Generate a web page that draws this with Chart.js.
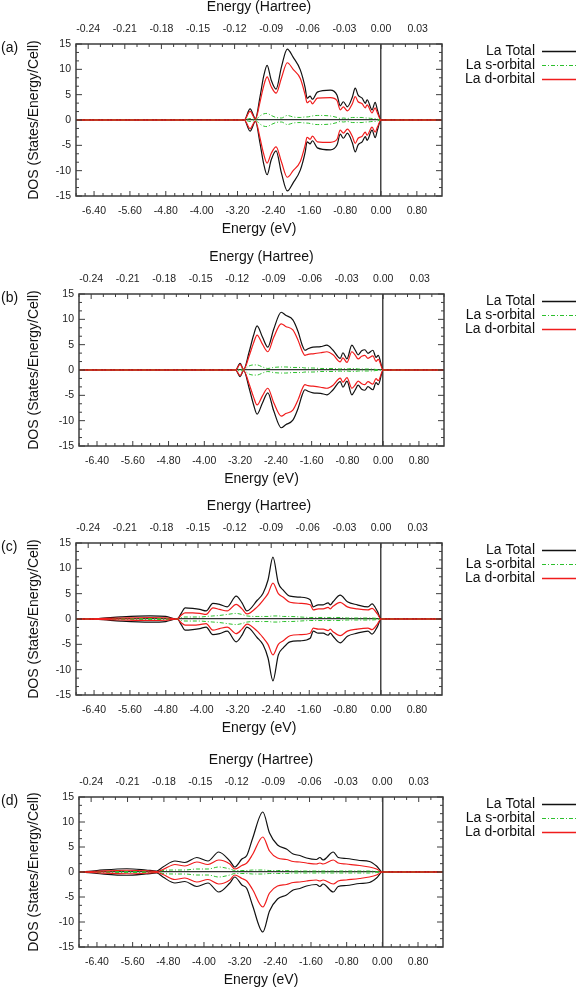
<!DOCTYPE html>
<html>
<head>
<meta charset="utf-8">
<title>La DOS</title>
<script src="https://cdn.jsdelivr.net/npm/chart.js@4.4.1/dist/chart.umd.min.js"></script>
<style>
  body { margin: 0; background: #fff; }
  .wrap { position: relative; width: 580px; height: 992px; overflow: hidden; }
  canvas { position: absolute; left: 0; }
</style>
</head>
<body>
<div class="wrap">
  <canvas id="panel-a" width="580" height="240" style="top:0px"></canvas>
  <canvas id="panel-b" width="580" height="240" style="top:250px"></canvas>
  <canvas id="panel-c" width="580" height="240" style="top:499px"></canvas>
  <canvas id="panel-d" width="580" height="238" style="top:753px"></canvas>
</div>
<script>
// Tick labels
const evTicks = [-6.4, -5.6, -4.8, -4.0, -3.2, -2.4, -1.6, -0.8, 0, 0.8];
const hartreeTicks = [-0.24, -0.21, -0.18, -0.15, -0.12, -0.09, -0.06, -0.03, 0, 0.03];
const dosTicks = [-15, -10, -5, 0, 5, 10, 15];
const legendLabels = ['La Total', 'La s-orbital', 'La d-orbital'];

// Panel (a) - energies in eV, DOS (spin up, spin down is mirrored)
const energyA = [-6.80, -3.05, -2.92, -2.80, -2.70, -2.62, -2.54, -2.45, -2.34, -2.22, -2.09, -1.96, -1.80, -1.69, -1.65, -1.58, -1.53, -1.42, -1.13, -0.98, -0.91, -0.84, -0.75, -0.64, -0.575, -0.51, -0.42, -0.35, -0.31, -0.20, -0.13, -0.08, 0.00, 1.36];
const totalA  = [0, 0, 2.2, 0.3, 4.5, 8.5, 10.8, 7.9, 6.1, 10.5, 14.0, 12.4, 9.9, 6.3, 4.3, 4.7, 4.1, 5.5, 5.9, 4.9, 2.8, 3.6, 2.6, 4.5, 6.3, 4.9, 4.3, 3.3, 4.0, 2.0, 3.5, 2.0, 0, 0];
const sOrbA   = [0, 0, 0.3, 0.1, 0.8, 1.2, 1.3, 0.9, 0.5, 0.4, 0.9, 0.6, 0.5, 0.6, 0.6, 0.7, 0.8, 0.9, 0.8, 0.5, 0.3, 0.4, 0.3, 0.5, 0.5, 0.5, 0.5, 0.4, 0.4, 0.3, 0.3, 0.2, 0, 0];
const dOrbA   = [0, 0, 1.7, 0.2, 3.5, 6.6, 8.5, 6.6, 5.3, 8.3, 11.3, 10.0, 8.2, 4.9, 3.4, 3.8, 3.2, 4.3, 4.4, 3.8, 2.0, 2.6, 1.8, 3.2, 4.6, 3.6, 3.2, 2.4, 3.0, 1.4, 2.4, 1.4, 0, 0];

// Panel (b)
const energyB = [-6.80, -3.30, -3.20, -3.12, -3.00, -2.90, -2.82, -2.70, -2.58, -2.45, -2.28, -2.18, -2.02, -1.90, -1.81, -1.75, -1.68, -1.57, -1.40, -1.26, -1.12, -0.96, -0.90, -0.81, -0.70, -0.63, -0.56, -0.48, -0.41, -0.34, -0.23, -0.16, -0.11, 0.00, 1.36];
const totalB  = [0, 0, 1.3, 0.1, 3.5, 6.8, 8.7, 6.5, 4.5, 8.0, 11.4, 10.8, 9.9, 7.5, 4.9, 3.9, 4.2, 4.5, 4.6, 4.9, 3.9, 2.3, 3.4, 2.2, 4.9, 4.0, 3.0, 3.8, 4.0, 3.3, 3.9, 2.5, 2.9, 0, 0];
const sOrbB   = [0, 0, 0.2, 0.1, 0.8, 1.0, 1.0, 0.6, 0.3, 0.5, 0.6, 0.6, 0.5, 0.5, 0.5, 0.4, 0.4, 0.4, 0.3, 0.3, 0.3, 0.2, 0.3, 0.2, 0.3, 0.3, 0.2, 0.2, 0.2, 0.2, 0.2, 0.1, 0.1, 0, 0];
const dOrbB   = [0, 0, 1.1, 0.1, 2.7, 5.3, 6.9, 5.1, 3.6, 6.4, 9.1, 8.6, 7.9, 5.8, 3.7, 2.9, 3.1, 3.2, 3.4, 3.6, 3.0, 1.6, 2.4, 1.5, 3.6, 3.0, 2.2, 2.7, 2.9, 2.3, 2.8, 1.7, 2.1, 0, 0];

// Panel (c)
const energyC = [-6.80, -6.30, -5.80, -5.15, -4.80, -4.55, -4.45, -4.37, -4.20, -4.04, -3.90, -3.75, -3.60, -3.43, -3.23, -3.10, -2.99, -2.76, -2.63, -2.52, -2.41, -2.29, -2.18, -2.03, -1.80, -1.58, -1.51, -1.40, -1.29, -1.18, -1.13, -1.07, -0.91, -0.75, -0.53, -0.29, -0.20, -0.08, 0.00, 1.36];
const totalC  = [0, 0.1, 0.4, 0.6, 0.5, 0.0, 1.2, 2.2, 2.1, 1.9, 1.6, 3.1, 2.9, 2.4, 4.5, 3.2, 1.6, 3.7, 5.1, 7.7, 12.2, 7.1, 5.7, 4.5, 4.3, 3.8, 2.4, 2.8, 2.8, 3.2, 2.8, 3.4, 4.7, 3.4, 2.8, 2.4, 3.0, 1.5, 0, 0];
const sOrbC   = [0, 0, 0.05, 0.1, 0.1, 0, 0.3, 0.4, 0.4, 0.4, 0.5, 0.6, 0.7, 0.9, 1.1, 0.9, 0.6, 0.5, 0.5, 0.5, 0.6, 0.6, 0.5, 0.5, 0.4, 0.3, 0.3, 0.3, 0.3, 0.3, 0.3, 0.3, 0.3, 0.2, 0.2, 0.2, 0.2, 0.1, 0, 0];
const dOrbC   = [0, 0.1, 0.2, 0.3, 0.25, 0, 0.8, 1.2, 1.2, 1.1, 0.9, 2.2, 1.9, 1.6, 2.9, 2.0, 1.0, 2.4, 3.7, 5.0, 7.1, 5.0, 4.3, 3.3, 3.1, 2.8, 1.8, 2.0, 2.0, 2.3, 2.0, 2.5, 3.3, 2.4, 2.0, 1.8, 2.1, 1.0, 0, 0];

// Panel (d)
const energyD = [-6.80, -6.40, -5.73, -5.30, -5.06, -4.92, -4.65, -4.43, -4.16, -3.91, -3.67, -3.42, -3.31, -3.15, -3.04, -2.91, -2.68, -2.53, -2.35, -2.15, -2.00, -1.85, -1.70, -1.48, -1.40, -1.33, -1.10, -0.99, -0.81, -0.51, -0.29, -0.13, 0.00, 1.36];
const totalD  = [0, 0.3, 0.65, 0.4, 0.2, 1.0, 2.2, 1.9, 2.9, 2.2, 4.0, 2.2, 1.0, 2.6, 3.3, 6.7, 12.0, 7.8, 5.4, 4.6, 3.6, 3.3, 2.8, 2.5, 2.9, 2.4, 4.0, 2.9, 2.7, 2.3, 2.1, 1.2, 0, 0];
const sOrbD   = [0, 0.05, 0.1, 0.1, 0.05, 0.3, 0.4, 0.4, 0.6, 0.6, 1.0, 0.6, 0.3, 0.3, 0.3, 0.4, 0.4, 0.3, 0.3, 0.3, 0.2, 0.2, 0.2, 0.2, 0.2, 0.2, 0.2, 0.2, 0.2, 0.2, 0.2, 0.1, 0, 0];
const dOrbD   = [0, 0.15, 0.35, 0.25, 0.1, 0.5, 1.5, 1.2, 2.0, 1.5, 2.4, 1.6, 0.6, 1.3, 1.8, 3.5, 7.0, 4.2, 2.8, 2.5, 2.1, 2.0, 1.8, 1.6, 1.8, 1.6, 2.4, 1.8, 1.6, 1.3, 1.0, 0.6, 0, 0];

const HARTREE = 27.2114;
const FONT = "'Liberation Sans', Arial, sans-serif";
const COLORS = { total: '#111111', s: '#2dc02d', d: '#f01c1c' };
const S_DASH = [4, 2, 1, 2];

const panels = [
    { id: 'panel-a', tag: '(a)', energy: energyA, total: totalA, s: sOrbA, d: dOrbA, left: 76, right: 442, bottom: 196 },
    { id: 'panel-b', tag: '(b)', energy: energyB, total: totalB, s: sOrbB, d: dOrbB, left: 79, right: 444, bottom: 196 },
    { id: 'panel-c', tag: '(c)', energy: energyC, total: totalC, s: sOrbC, d: dOrbC, left: 76, right: 442, bottom: 196 },
    { id: 'panel-d', tag: '(d)', energy: energyD, total: totalD, s: sOrbD, d: dOrbD, left: 79, right: 443, bottom: 194 }
];

// spin up / spin down points for one orbital
function points(energy, values, sign) {
    return energy.map((e, i) => ({ x: e, y: sign * values[i] }));
}

function lineSet(label, data, color, width, dash) {
    return {
        label: label,
        data: data,
        borderColor: color,
        borderWidth: width,
        borderDash: dash,
        pointRadius: 0,
        fill: false,
        cubicInterpolationMode: 'monotone'
    };
}

// draws frame, inward minor/major ticks, panel tag and the legend
const decorPlugin = {
    id: 'decor',
    afterDraw(chart) {
        const { ctx, chartArea: a, scales } = chart;
        ctx.save();

        // ticks
        ctx.strokeStyle = '#3c3c3c';
        ctx.lineWidth = 1;
        function ticks(scale, step, every, horizontal, edge, dir, majorLen, minorLen) {
            const start = Math.ceil(scale.min / step - 1e-6);
            for (let k = start; k * step <= scale.max + 1e-6; k++) {
                const p = scale.getPixelForValue(k * step);
                const len = (k % every === 0) ? majorLen : minorLen;
                ctx.beginPath();
                if (horizontal) {
                    ctx.moveTo(p, edge);
                    ctx.lineTo(p, edge + dir * len);
                } else {
                    ctx.moveTo(edge, p);
                    ctx.lineTo(edge + dir * len, p);
                }
                ctx.stroke();
            }
        }
        ticks(scales.x, 0.2, 4, true, a.bottom, -1, 5, 3);
        ticks(scales.xTop, 0.01, 3, true, a.top, 1, 5, 3);
        ticks(scales.y, 5 / 3, 3, false, a.left, 1, 6, 3);
        ticks(scales.y, 5 / 3, 3, false, a.right, -1, 6, 3);

        // frame
        ctx.lineWidth = 1.5;
        ctx.strokeRect(a.left, a.top, a.right - a.left, a.bottom - a.top);

        // panel tag
        ctx.fillStyle = '#111';
        ctx.font = '14px ' + FONT;
        ctx.textAlign = 'left';
        ctx.textBaseline = 'middle';
        ctx.fillText(chart.options.plugins.decor.tag, 1, a.top + 4);

        // legend
        const styles = [[COLORS.total, []], [COLORS.s, S_DASH], [COLORS.d, []]];
        ctx.font = '14px ' + FONT;
        ctx.textAlign = 'right';
        legendLabels.forEach((name, i) => {
            const y = a.top + 7 + i * 14;
            ctx.fillStyle = '#111';
            ctx.fillText(name, 535, y);
            ctx.strokeStyle = styles[i][0];
            ctx.setLineDash(styles[i][1]);
            ctx.lineWidth = i === 1 ? 1 : 1.3;
            ctx.beginPath();
            ctx.moveTo(542, y + 0.5);
            ctx.lineTo(576, y + 0.5);
            ctx.stroke();
        });
        ctx.restore();
    }
};

function createPanel(p) {
    const canvas = document.getElementById(p.id);
    const h = canvas.height;
    const tickFont = { family: FONT, size: 10.5 };
    const titleFont = { family: FONT, size: 14 };

    return new Chart(canvas, {
        type: 'line',
        data: {
            datasets: [
                lineSet('La d-orbital', points(p.energy, p.d, 1), COLORS.d, 1.2, []),
                lineSet('', points(p.energy, p.d, -1), COLORS.d, 1.2, []),
                lineSet('La s-orbital', points(p.energy, p.s, 1), COLORS.s, 1, S_DASH),
                lineSet('', points(p.energy, p.s, -1), COLORS.s, 1, S_DASH),
                lineSet('La Total', points(p.energy, p.total, 1), COLORS.total, 1.2, []),
                lineSet('', points(p.energy, p.total, -1), COLORS.total, 1.2, [])
            ]
        },
        options: {
            responsive: false,
            animation: false,
            devicePixelRatio: 1,
            layout: { padding: { left: 0, right: 580 - p.right, top: 0, bottom: 0 } },
            plugins: {
                legend: { display: false },
                tooltip: { enabled: false },
                decor: { tag: p.tag }
            },
            scales: {
                x: {
                    type: 'linear',
                    position: 'bottom',
                    min: -0.25 * HARTREE,
                    max: 0.05 * HARTREE,
                    afterBuildTicks: (scale) => { scale.ticks = evTicks.map(v => ({ value: v })); },
                    afterFit: (scale) => { scale.height = h - p.bottom; },
                    grid: {
                        drawTicks: false,
                        color: (c) => c.tick && c.tick.value === 0 ? '#444' : 'rgba(0,0,0,0)',
                        lineWidth: 1.5
                    },
                    border: { display: false },
                    ticks: {
                        autoSkip: false, maxRotation: 0, padding: 9, color: '#222', font: tickFont,
                        callback: (v) => Number(v).toFixed(2)
                    },
                    title: { display: true, text: 'Energy (eV)', color: '#111', font: titleFont, padding: { top: 0, bottom: 2 } }
                },
                xTop: {
                    type: 'linear',
                    position: 'top',
                    min: -0.25,
                    max: 0.05,
                    afterBuildTicks: (scale) => { scale.ticks = hartreeTicks.map(v => ({ value: v })); },
                    afterFit: (scale) => { scale.height = 44; },
                    grid: { display: false, drawTicks: false },
                    border: { display: false },
                    ticks: {
                        autoSkip: false, maxRotation: 0, padding: 9, color: '#222', font: tickFont,
                        callback: (v) => Number(v).toFixed(2)
                    },
                    title: { display: true, text: 'Energy (Hartree)', color: '#111', font: { family: FONT, size: 14, lineHeight: 1 }, padding: { top: 0, bottom: 0 } }
                },
                y: {
                    type: 'linear',
                    position: 'left',
                    min: -15,
                    max: 15,
                    afterBuildTicks: (scale) => { scale.ticks = dosTicks.map(v => ({ value: v })); },
                    afterFit: (scale) => { scale.width = p.left; },
                    grid: {
                        drawTicks: false,
                        color: (c) => c.tick && c.tick.value === 0 ? '#333' : 'rgba(0,0,0,0)',
                        lineWidth: 1.2
                    },
                    border: { display: false },
                    ticks: { padding: 5, color: '#222', font: tickFont },
                    title: { display: true, text: 'DOS (States/Energy/Cell)', color: '#111', font: titleFont, padding: { top: 26, bottom: 0 } }
                }
            }
        },
        plugins: [decorPlugin]
    });
}

panels.forEach(createPanel);
</script>
</body>
</html>
